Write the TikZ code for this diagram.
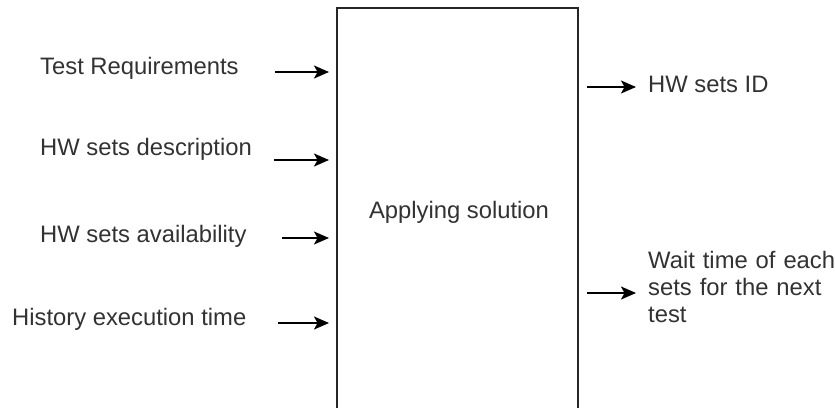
\documentclass[tikz,border=0pt]{standalone}
\usepackage{fontspec}
\setmainfont{Liberation Sans}
\usetikzlibrary{arrows.meta}
\definecolor{txt}{RGB}{50,50,50}
\tikzset{
  lbl/.style={inner sep=0pt, anchor=west, text=txt, font=\fontsize{23.8}{27}\selectfont},
  procbox/.style={draw=black!85, line width=2pt, fill=white, anchor=north west, minimum width=241pt, minimum height=440pt, inner sep=0pt},
  flow/.style={line width=1.8pt, -{Stealth[length=15pt,width=13pt,inset=3.5pt]}, shorten >=7pt}
}
\begin{document}
\begin{tikzpicture}[x=1pt,y=-1pt]
\useasboundingbox (0,0) rectangle (835,407);
\begin{scope}
\clip (0,0) rectangle (835,407);
\node[procbox] (box) at (336,7) {};
\end{scope}
\node[lbl, anchor=center] (sol) at (459,212) {Applying solution};
% inputs
\node[lbl] (t1) at (40,68) {Test Requirements};
\node[lbl] (t2) at (40,149) {HW sets description};
\node[lbl] (t3) at (40,236) {HW sets availability};
\node[lbl] (t4) at (12,319) {History execution time};
\coordinate (s1) at (275,72);
\coordinate (s2) at (274,160);
\coordinate (s3) at (282,238);
\coordinate (s4) at (278,323);
\draw[flow] (s1) -- (s1 -| box.west);
\draw[flow] (s2) -- (s2 -| box.west);
\draw[flow] (s3) -- (s3 -| box.west);
\draw[flow] (s4) -- (s4 -| box.west);
% outputs
\node[lbl] (o1) at (648,84) {HW sets ID};
\node[lbl, text width=190pt, align=left] (o2) at (648,287) {Wait time of each\\sets for the next\\test};
\coordinate (e1) at (643,87);
\coordinate (e2) at (643,293);
\draw[flow] (e1 -| box.east) ++(8,0) -- (e1);
\draw[flow] (e2 -| box.east) ++(8,0) -- (e2);
\end{tikzpicture}
\end{document}
